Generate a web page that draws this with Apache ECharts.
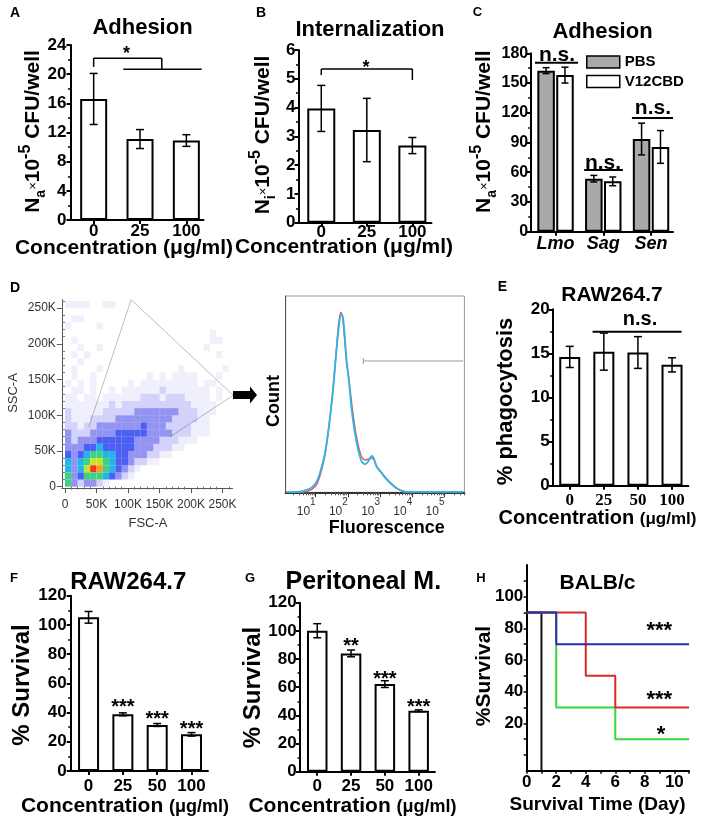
<!DOCTYPE html>
<html><head><meta charset="utf-8">
<script src="https://cdn.jsdelivr.net/npm/echarts@6/dist/echarts.min.js"></script>
<style>html,body{margin:0;padding:0;background:#fff}#c{width:709px;height:824px}</style>
</head><body><div id="c"></div>
<script>
// ================= DATA =================
// A: Adhesion
const concA = ['0', '25', '100'];
const adhesionA = [16.6, 11.1, 10.9];
const adhesionA_err = [3.5, 1.3, 0.8];
// B: Internalization
const concB = ['0', '25', '100'];
const internalB = [3.97, 3.22, 2.68];
const internalB_err = [0.8, 1.1, 0.28];
// C: Adhesion by species
const speciesC = ['Lmo', 'Sag', 'Sen'];
const pbsC = [162.5, 53.5, 93.5];
const pbsC_err = [3, 3.3, 16];
const v12C = [158, 50.8, 85.5];
const v12C_err = [8, 4.4, 16.5];
// D: FACS density (rows top->bottom: SSC 250K..0, cols FSC 0..250K, 10K bins, level 0-9)
const sscDensityRows = [
  "11110011000000000000000000",
  "00000000000000000000000000",
  "01100000000000000000000000",
  "10000100000000000000000000",
  "00000000000000000000000100",
  "01000000000000000000000110",
  "00100100000000000000001000",
  "01010000000000000000000010",
  "00100000000000000000000000",
  "01000100000000000010000001",
  "01001000000001010111100010",
  "10101000001011111111101100",
  "01101001011111121111111010",
  "11011011111122212221111010",
  "11111112122222222222111100",
  "21111122222333333322211100",
  "21112222333333333222211000",
  "22122333333343332222111000",
  "32223333444443333222111000",
  "32333444444333322211100000",
  "33344544444333222110000000",
  "43456655443332211000000000",
  "53567765443221100000000000",
  "53579865432100000000000000",
  "63466654321000000000000000",
  "63233210000000000000000000"
];
const gateVertices = [[38000, 84000], [105000, 262000], [267000, 128000], [167000, 70000]];
// D: fluorescence histogram (x = log10 fluorescence)
const fluorLog = [0.10, 0.51, 0.72, 0.88, 1.03, 1.16, 1.29, 1.41, 1.53, 1.63, 1.71, 1.78, 1.83, 1.89, 1.96, 2.03, 2.12, 2.22, 2.32, 2.43, 2.53, 2.63, 2.74, 2.81, 2.89, 3.05, 3.20, 3.36, 3.51, 3.67, 3.83, 5.58];
const countBlue = [0, 0.3, 1.2, 2.5, 5.4, 11.4, 19.9, 33.4, 50.4, 69.1, 82.7, 90.3, 90.3, 82.7, 67.4, 57.2, 41.9, 30.1, 21.6, 15.6, 14.3, 15.6, 18.5, 17.3, 13.1, 9.7, 6.6, 4.1, 2.0, 0.7, 0.2, 0.2];
const countRed = [0, 0, 0.5, 1.5, 4.0, 10, 19, 33, 51, 70, 85, 91.7, 90, 80, 66, 58, 45, 33, 24, 18, 16.5, 16.8, 17.5, 16.5, 13.5, 10, 7, 4.3, 2.2, 0.8, 0.2, 0.2];
// E: phagocytosis
const concE = ['0', '25', '50', '100'];
const phagoE = [14.6, 15.2, 15.1, 13.7];
const phagoE_err = [1.2, 2.1, 1.8, 0.8];
// F: RAW264.7 survival
const concF = ['0', '25', '50', '100'];
const survivalF = [105.2, 38.8, 31.5, 25.1];
const survivalF_err = [4, 1, 1, 1.2];
const starsF = ['***', '***', '***'];
// G: Peritoneal macrophage survival
const concG = ['0', '25', '50', '100'];
const survivalG = [100.1, 84.0, 62.2, 43.3];
const survivalG_err = [5, 2.4, 2.4, 0.6];
const starsG = ['**', '***', '***'];
// H: BALB/c survival (as read on the printed axis)
const daysBlack = [0, 1];       const survBlack = [90, -10];
const daysGreen = [0, 2, 6, 11]; const survGreen = [90, 30, 10, 10];
const daysRed = [0, 4, 6, 11];   const survRed = [90, 50, 30, 30];
const daysBlue = [0, 2, 11];     const survBlue = [90, 70, 70];
const starsH = ['***', '***', '*'];

// ================= BUILD =================
const FF = '"Liberation Sans", Arial, Helvetica, sans-serif';
const SERIF = '"Liberation Serif", "Times New Roman", serif';
const grid = [], xAxis = [], yAxis = [], series = [], graphic = [];

function errSeries(xi, yi, means, errs, off, cap) {
  return {
    type: 'custom', xAxisIndex: xi, yAxisIndex: yi, z: 5, silent: true, clip: false,
    data: means.map((m, i) => [i, m, errs[i]]),
    renderItem: (params, api) => {
      const x = api.value(0), m = api.value(1), e = api.value(2);
      const hi = api.coord([x, m + e]), lo = api.coord([x, m - e]);
      const cx = hi[0] + off;
      const st = { stroke: '#000', lineWidth: 1.5 };
      return { type: 'group', children: [
        { type: 'line', shape: { x1: cx, y1: hi[1], x2: cx, y2: lo[1] }, style: st },
        { type: 'line', shape: { x1: cx - cap, y1: hi[1], x2: cx + cap, y2: hi[1] }, style: st },
        { type: 'line', shape: { x1: cx - cap, y1: lo[1], x2: cx + cap, y2: lo[1] }, style: st }
      ]};
    }
  };
}
function segSeries(xi, yi, segs, color, width) {
  return {
    type: 'custom', xAxisIndex: xi, yAxisIndex: yi, z: 5, silent: true, clip: false, data: segs,
    renderItem: (params, api) => {
      const a = api.coord([api.value(0), api.value(1)]), b = api.coord([api.value(2), api.value(3)]);
      return { type: 'line', shape: { x1: a[0], y1: a[1], x2: b[0], y2: b[1] }, style: { stroke: color, lineWidth: width } };
    }
  };
}
function textSeries(xi, yi, pts, texts, size) {
  return {
    type: 'custom', xAxisIndex: xi, yAxisIndex: yi, z: 6, silent: true, clip: false, data: pts,
    renderItem: (params, api) => {
      const c = api.coord([api.value(0), api.value(1)]);
      return { type: 'text', x: c[0], y: c[1], style: { text: texts[params.dataIndex], fill: '#000', fontFamily: FF, fontWeight: 'bold', fontSize: size, align: 'center', verticalAlign: 'middle' } };
    }
  };
}
function barPanel(p) {
  const gi = grid.length;
  grid.push({ left: p.left, top: p.top, width: p.width, height: p.height });
  const xi = xAxis.length, yi = yAxis.length;
  const idx = p.cats.map((_, i) => i);
  xAxis.push({ gridIndex: gi, type: 'value', min: p.xmin, max: p.xmax, position: 'bottom',
    axisLine: { show: true, onZero: false, lineStyle: { color: '#000', width: 2 } },
    axisTick: { show: true, customValues: idx, length: 4, lineStyle: { color: '#000', width: 2 } },
    axisLabel: { show: true, customValues: idx, formatter: v => p.cats[Math.round(v)], color: '#000', fontFamily: p.xFamily || FF, fontWeight: 'bold', fontStyle: p.xStyle || 'normal', fontSize: p.xSize || 17, margin: p.xMargin },
    splitLine: { show: false } });
  yAxis.push({ gridIndex: gi, type: 'value', min: p.ymin, max: p.ymax, interval: p.yInterval, position: 'left',
    axisLine: { show: true, onZero: false, lineStyle: { color: '#000', width: 2 } },
    axisTick: { show: true, length: 4, lineStyle: { color: '#000', width: 2 } },
    minorTick: { show: true, splitNumber: 2, length: 2.5, lineStyle: { color: '#000', width: 1.5 } },
    axisLabel: { color: '#000', fontFamily: FF, fontWeight: 'bold', fontSize: p.ySize || 17, margin: p.yMargin },
    splitLine: { show: false } });
  p.groups.forEach((g, k) => {
    series.push({ type: 'bar', name: g.name, xAxisIndex: xi, yAxisIndex: yi, barWidth: p.barWidth, barGap: p.barGap || '0%', silent: true, z: 2,
      data: g.values.map((v, i) => [i, v]), itemStyle: { color: g.fill || '#fff', borderColor: '#000', borderWidth: 2 } });
    const off = p.groups.length === 2 ? (k === 0 ? -1 : 1) * p.barWidth * (1 + parseFloat(p.barGap) / 100) / 2 : 0;
    series.push(errSeries(xi, yi, g.values, g.errs, off, p.cap || 4));
  });
  return { xi, yi };
}
function txt(x, y, text, size, opt) {
  opt = opt || {};
  const style = { text, fill: opt.color || '#000', fontFamily: opt.family || FF, fontWeight: opt.weight || 'bold', fontSize: size, align: 'center', verticalAlign: 'middle' };
  if (opt.rich) style.rich = opt.rich;
  graphic.push({ type: 'text', x, y, rotation: opt.rot || 0, silent: true, z: 50, style });
}

// ---- Panel A ----
const pA = barPanel({ left: 70.5, top: 45, width: 133, height: 175, xmin: -0.5, xmax: 2.37, ymin: 0, ymax: 24, yInterval: 4,
  cats: concA, barWidth: 27, xMargin: 3, yMargin: 4, cap: 4,
  groups: [{ name: 'Adhesion', values: adhesionA, errs: adhesionA_err }] });
series.push(segSeries(pA.xi, pA.yi, [[0, 21.0, 0, 22.18], [0, 22.18, 1.47, 22.18], [1.47, 22.18, 1.47, 20.67], [0.64, 20.67, 2.33, 20.67]], '#000', 1.5));
series.push(textSeries(pA.xi, pA.yi, [[0.71, 22.7]], ['*'], 18));

// ---- Panel B ----
const pB = barPanel({ left: 298.5, top: 50, width: 133, height: 172.7, xmin: -0.5, xmax: 2.42, ymin: 0, ymax: 6, yInterval: 1,
  cats: concB, barWidth: 28, xMargin: 1.5, yMargin: 3, ySize: 17, cap: 4,
  groups: [{ name: 'Internalization', values: internalB, errs: internalB_err }] });
series.push(segSeries(pB.xi, pB.yi, [[0, 5.13, 0, 5.34], [0, 5.34, 2, 5.34], [2, 5.34, 2, 4.96]], '#000', 1.5));
series.push(textSeries(pB.xi, pB.yi, [[0.98, 5.38]], ['*'], 18));

// ---- Panel C ----
const pC = barPanel({ left: 530.7, top: 53.3, width: 142.3, height: 178.4, xmin: -0.52, xmax: 2.46, ymin: 0, ymax: 180, yInterval: 30,
  cats: speciesC, barWidth: 17.5, barGap: '8%', xStyle: 'italic', xSize: 18, xMargin: 3, ySize: 16, yMargin: 2.5, cap: 3.5,
  groups: [{ name: 'PBS', values: pbsC, errs: pbsC_err, fill: '#a9a9a9' }, { name: 'V12CBD', values: v12C, errs: v12C_err, fill: '#fff' }] });
series.push(segSeries(pC.xi, pC.yi, [[-0.43, 170.5, 0.47, 170.5], [0.6, 62.3, 1.41, 62.3], [1.6, 114.7, 2.46, 114.7]], '#000', 2));
series.push(textSeries(pC.xi, pC.yi, [[0.03, 178.4], [0.995, 69.3], [2.04, 124.8]], ['n.s.', 'n.s.', 'n.s.'], 21));

// ---- Panel D: scatter density ----
(function () {
  const gi = grid.length;
  grid.push({ left: 61.85, top: 299.5, width: 170.7, height: 188.6 });
  const xmin = -5000, xmax = 266000, ymin = -2000, ymax = 262144;
  const majors = [0, 50000, 100000, 150000, 200000, 250000];
  const minors = []; for (let v = 10000; v <= 260000; v += 10000) if (v % 50000) minors.push(v);
  const fmt = v => v === 0 ? '0' : (v / 1000) + 'K';
  const xi = xAxis.length;
  xAxis.push({ gridIndex: gi, type: 'value', min: xmin, max: xmax, position: 'bottom',
    axisLine: { show: true, onZero: false, lineStyle: { color: '#555', width: 1 } },
    axisTick: { show: true, customValues: majors, length: 5, lineStyle: { color: '#555' } },
    axisLabel: { customValues: majors, formatter: fmt, fontSize: 12, color: '#333', fontFamily: FF, margin: 11 },
    splitLine: { show: false } });
  xAxis.push({ gridIndex: gi, type: 'value', min: xmin, max: xmax, position: 'bottom',
    axisLine: { show: false }, axisTick: { show: true, customValues: minors, length: 3, lineStyle: { color: '#777' } },
    axisLabel: { show: false }, splitLine: { show: false } });
  const yi = yAxis.length;
  yAxis.push({ gridIndex: gi, type: 'value', min: ymin, max: ymax, position: 'left',
    axisLine: { show: true, onZero: false, lineStyle: { color: '#555', width: 1 } },
    axisTick: { show: true, customValues: majors, length: 5, lineStyle: { color: '#555' } },
    axisLabel: { customValues: majors, formatter: fmt, fontSize: 12, color: '#333', fontFamily: FF, margin: 6 },
    splitLine: { show: false } });
  yAxis.push({ gridIndex: gi, type: 'value', min: ymin, max: ymax, position: 'left',
    axisLine: { show: false }, axisTick: { show: true, customValues: minors, length: 3, lineStyle: { color: '#777' } },
    axisLabel: { show: false }, splitLine: { show: false } });
  const cells = [];
  const nRows = sscDensityRows.length;
  sscDensityRows.forEach((row, r) => {
    for (let c = 0; c < row.length; c++) {
      const lv = +row[c];
      if (lv > 0) cells.push([c * 10000, (nRows - 1 - r) * 10000, lv]);
    }
  });
  const dens = [null, 'rgba(60,60,235,0.08)', 'rgba(50,50,235,0.22)', 'rgba(40,40,230,0.5)', 'rgba(35,60,240,0.82)', '#22b6e8', '#3fd27e', '#c6e231', '#ff9a20', '#ef3a1c'];
  series.push({ type: 'line', name: 'gate', xAxisIndex: xi, yAxisIndex: yi, data: gateVertices, showSymbol: false, silent: true, z: 1,
    lineStyle: { color: '#bdbdbd', width: 1 } });
  series.push({ type: 'custom', name: 'density', xAxisIndex: xi, yAxisIndex: yi, silent: true, z: 2, data: cells,
    renderItem: (params, api) => {
      const x = api.value(0), y = api.value(1), lv = api.value(2);
      const p0 = api.coord([x, y + 10000]), p1 = api.coord([x + 10000, y]);
      return { type: 'rect', shape: { x: p0[0], y: p0[1], width: p1[0] - p0[0], height: p1[1] - p0[1] }, style: { fill: dens[lv] } };
    } });
})();

// ---- Panel D: histogram ----
(function () {
  const gi = grid.length;
  grid.push({ left: 285.7, top: 296, width: 178.7, height: 196.3, show: true, borderColor: '#999', borderWidth: 1 });
  const xmin = 0.07, xmax = 5.62;
  const majors = [1, 2, 3, 4, 5];
  const minors = [];
  for (let d = 0; d <= 5; d++) for (let k = 2; k <= 9; k++) { const v = d + Math.log10(k); if (v > xmin && v < xmax) minors.push(v); }
  const xi = xAxis.length;
  xAxis.push({ gridIndex: gi, type: 'value', min: xmin, max: xmax, position: 'bottom',
    axisLine: { show: true, onZero: false, lineStyle: { color: '#333', width: 2 } },
    axisTick: { show: true, customValues: majors, length: 5, lineStyle: { color: '#333' } },
    axisLabel: { customValues: majors, align: 'right', margin: 5, formatter: v => '{b|10}{s|' + v + '}',
      rich: { b: { fontSize: 12, color: '#333', fontFamily: FF, verticalAlign: 'bottom', lineHeight: 20 }, s: { fontSize: 10, color: '#333', fontFamily: FF, verticalAlign: 'top', lineHeight: 12 } } },
    splitLine: { show: false } });
  xAxis.push({ gridIndex: gi, type: 'value', min: xmin, max: xmax, position: 'bottom',
    axisLine: { show: false }, axisTick: { show: true, customValues: minors, length: 3, lineStyle: { color: '#555' } },
    axisLabel: { show: false }, splitLine: { show: false } });
  const yi = yAxis.length;
  yAxis.push({ gridIndex: gi, type: 'value', min: 0, max: 100, position: 'left',
    axisLine: { show: true, onZero: false, lineStyle: { color: '#555', width: 1 } },
    axisTick: { show: false }, axisLabel: { show: false }, splitLine: { show: false } });
  series.push({ type: 'line', name: 'Control', xAxisIndex: xi, yAxisIndex: yi, data: fluorLog.map((x, i) => [x, countRed[i]]),
    smooth: 0.25, showSymbol: false, silent: true, z: 3, lineStyle: { color: '#e2585c', width: 1.5 } });
  series.push({ type: 'line', name: 'V12CBD-treated', xAxisIndex: xi, yAxisIndex: yi, data: fluorLog.map((x, i) => [x, countBlue[i]]),
    smooth: 0.25, showSymbol: false, silent: true, z: 4, lineStyle: { color: '#2bb7e6', width: 1.8 } });
  series.push(segSeries(xi, yi, [[2.48, 66.9, 5.58, 66.9], [2.48, 65.4, 2.48, 68.4]], '#9a9a9a', 1));
})();

// ---- Panel E ----
const pE = barPanel({ left: 552.7, top: 309.3, width: 135.7, height: 176.4, xmin: -0.5, xmax: 3.48, ymin: 0, ymax: 20, yInterval: 5,
  cats: concE, barWidth: 21, xFamily: SERIF, xSize: 17, xMargin: 6, yMargin: 3, cap: 4,
  groups: [{ name: 'Phagocytosis', values: phagoE, errs: phagoE_err }] });
series.push(segSeries(pE.xi, pE.yi, [[0.67, 17.46, 3.28, 17.46]], '#000', 2));
series.push(textSeries(pE.xi, pE.yi, [[2.06, 18.8]], ['n.s.'], 20));

// ---- Panel F ----
const pF = barPanel({ left: 70.7, top: 595.7, width: 137.3, height: 175.3, xmin: -0.52, xmax: 3.48, ymin: 0, ymax: 120, yInterval: 20,
  cats: concF, barWidth: 21, xMargin: 7, yMargin: 4, cap: 4,
  groups: [{ name: 'RAW264.7', values: survivalF, errs: survivalF_err }] });
series.push(textSeries(pF.xi, pF.yi, [[1, 43.2], [2, 35.2], [3, 28.3]], starsF, 20));

// ---- Panel G ----
const pG = barPanel({ left: 300, top: 602.7, width: 134.9, height: 169, xmin: -0.51, xmax: 3.48, ymin: 0, ymax: 120, yInterval: 20,
  cats: concG, barWidth: 20.5, xMargin: 6.5, yMargin: 3.3, cap: 4,
  groups: [{ name: 'Peritoneal M.', values: survivalG, errs: survivalG_err }] });
series.push(textSeries(pG.xi, pG.yi, [[1, 89], [2, 65.4], [3, 45.3]], starsG, 20));

// ---- Panel H ----
(function () {
  const gi = grid.length;
  grid.push({ left: 526.7, top: 565, width: 162.4, height: 205.8 });
  const xi = xAxis.length, yi = yAxis.length;
  xAxis.push({ gridIndex: gi, type: 'value', min: 0, max: 11, position: 'bottom',
    axisLine: { show: true, onZero: false, lineStyle: { color: '#000', width: 2 } },
    axisTick: { show: true, customValues: [0, 1, 2, 3, 4, 5, 6, 7, 8, 9, 10, 11], length: 3, lineStyle: { color: '#000', width: 1.5 } },
    axisLabel: { customValues: [0, 2, 4, 6, 8, 10], color: '#000', fontFamily: FF, fontWeight: 'bold', fontSize: 17, margin: 3 },
    splitLine: { show: false } });
  yAxis.push({ gridIndex: gi, type: 'value', min: -10, max: 120, position: 'left',
    axisLine: { show: true, onZero: false, lineStyle: { color: '#000', width: 2 } },
    axisTick: { show: true, customValues: [0, 10, 20, 30, 40, 50, 60, 70, 80, 90, 100, 110], length: 3, lineStyle: { color: '#000', width: 1.5 } },
    axisLabel: { customValues: [20, 40, 60, 80, 100], color: '#000', fontFamily: FF, fontWeight: 'bold', fontSize: 17, margin: 3.4 },
    splitLine: { show: false } });
  const mk = (name, xs, ys, color) => ({ type: 'line', name, step: 'end', xAxisIndex: xi, yAxisIndex: yi, showSymbol: false, silent: true, z: 3,
    data: xs.map((x, i) => [x, ys[i]]), lineStyle: { color, width: 2 } });
  series.push(mk('Group black', daysBlack, survBlack, '#111'));
  series.push(mk('Group green', daysGreen, survGreen, '#3dd43d'));
  series.push(mk('Group red', daysRed, survRed, '#d92a2a'));
  series.push(mk('Group blue', daysBlue, survBlue, '#2b2bb5'));
  series.push(textSeries(xi, yi, [[8.98, 78.1], [8.98, 35.0], [9.1, 12.9]], starsH, 22));
})();

// ================= TEXT =================
const richN = (sub) => ({
  text: '{m|N}{sb|' + sub + '}{x|×}{m|10}{sp|-5}{m| CFU/well}',
  rich: {
    m: { fontSize: 21, fontWeight: 'bold', fontFamily: FF, fill: '#000', lineHeight: 30, verticalAlign: 'middle' },
    sb: { fontSize: 14, fontWeight: 'bold', fontFamily: FF, fill: '#000', lineHeight: 22, verticalAlign: 'bottom' },
    x: { fontSize: 13, fontWeight: 'normal', fontFamily: FF, fill: '#000', lineHeight: 30, verticalAlign: 'middle' },
    sp: { fontSize: 16, fontWeight: 'bold', fontFamily: FF, fill: '#000', lineHeight: 17, verticalAlign: 'top' }
  }
});
const rA = richN('a'), rB = richN('i'), rC = richN('a');
txt(33, 131.5, rA.text, 21, { rot: Math.PI / 2, rich: rA.rich });
txt(263, 135, rB.text, 21, { rot: Math.PI / 2, rich: rB.rich });
txt(484, 131.7, rC.text, 21, { rot: Math.PI / 2, rich: rC.rich });

// panel letters
txt(15, 13, 'A', 14); txt(261, 13, 'B', 14); txt(477.5, 12.5, 'C', 13);
txt(15, 288, 'D', 14); txt(502.5, 287, 'E', 14);
txt(14, 578, 'F', 13); txt(250, 578, 'G', 13); txt(481, 578, 'H', 13);
// titles
txt(142.5, 28.3, 'Adhesion', 22);
txt(370, 30, 'Internalization', 22);
txt(602.5, 31.7, 'Adhesion', 22);
txt(612, 295, 'RAW264.7', 21);
txt(128.3, 582.5, 'RAW264.7', 24);
txt(363.3, 582.5, 'Peritoneal M.', 25);
txt(597.5, 583, 'BALB/c', 21);
// x names
txt(124, 248, 'Concentration (μg/ml)', 21);
txt(344, 247.5, 'Concentration (μg/ml)', 21);
const concRich = (a, b) => ({ c: { fontSize: a, fontWeight: 'bold', fontFamily: FF, fill: '#000', verticalAlign: 'bottom' }, u: { fontSize: b, fontWeight: 'bold', fontFamily: FF, fill: '#000', verticalAlign: 'bottom' } });
txt(597.5, 518, '{c|Concentration }{u|(μg/ml)}', 20, { rich: concRich(20, 17) });
txt(125, 806, '{c|Concentration }{u|(μg/ml)}', 21, { rich: concRich(21, 18) });
txt(352.5, 806, '{c|Concentration }{u|(μg/ml)}', 21, { rich: concRich(21, 18) });
txt(597.5, 805, 'Survival Time (Day)', 19);
txt(148, 523, 'FSC-A', 13, { weight: 'normal', color: '#333' });
txt(386.7, 528.3, 'Fluorescence', 18);
// y names
txt(13, 393, 'SSC-A', 13, { rot: Math.PI / 2, weight: 'normal', color: '#333' });
txt(274, 401, 'Count', 18, { rot: Math.PI / 2 });
txt(506, 401.5, '% phagocytosis', 22, { rot: Math.PI / 2 });
txt(22.5, 685, '% Survival', 24, { rot: Math.PI / 2 });
txt(253, 687.5, '% Survival', 24, { rot: Math.PI / 2 });
txt(484, 676, '%Survival', 21, { rot: Math.PI / 2 });
// arrow D
graphic.push({ type: 'polygon', silent: true, z: 50, shape: { points: [[233, 391], [250, 391], [250, 386.5], [257, 395], [250, 403.5], [250, 399], [233, 399]] }, style: { fill: '#000' } });

const chart = echarts.init(document.getElementById('c'), null, { renderer: 'canvas' });
chart.setOption({
  animation: false, backgroundColor: '#fff', textStyle: { fontFamily: FF },
  grid, xAxis, yAxis, series,
  legend: { data: ['PBS', 'V12CBD'], orient: 'vertical', left: 586, top: 54.5, itemWidth: 33, itemHeight: 12, itemGap: 4.5, icon: 'rect',
    padding: 0, selectedMode: false, itemStyle: { borderColor: '#000', borderWidth: 1.5 },
    textStyle: { fontSize: 15, fontWeight: 'bold', color: '#000', fontFamily: FF } },
  graphic: { elements: graphic }
});
</script></body></html>
